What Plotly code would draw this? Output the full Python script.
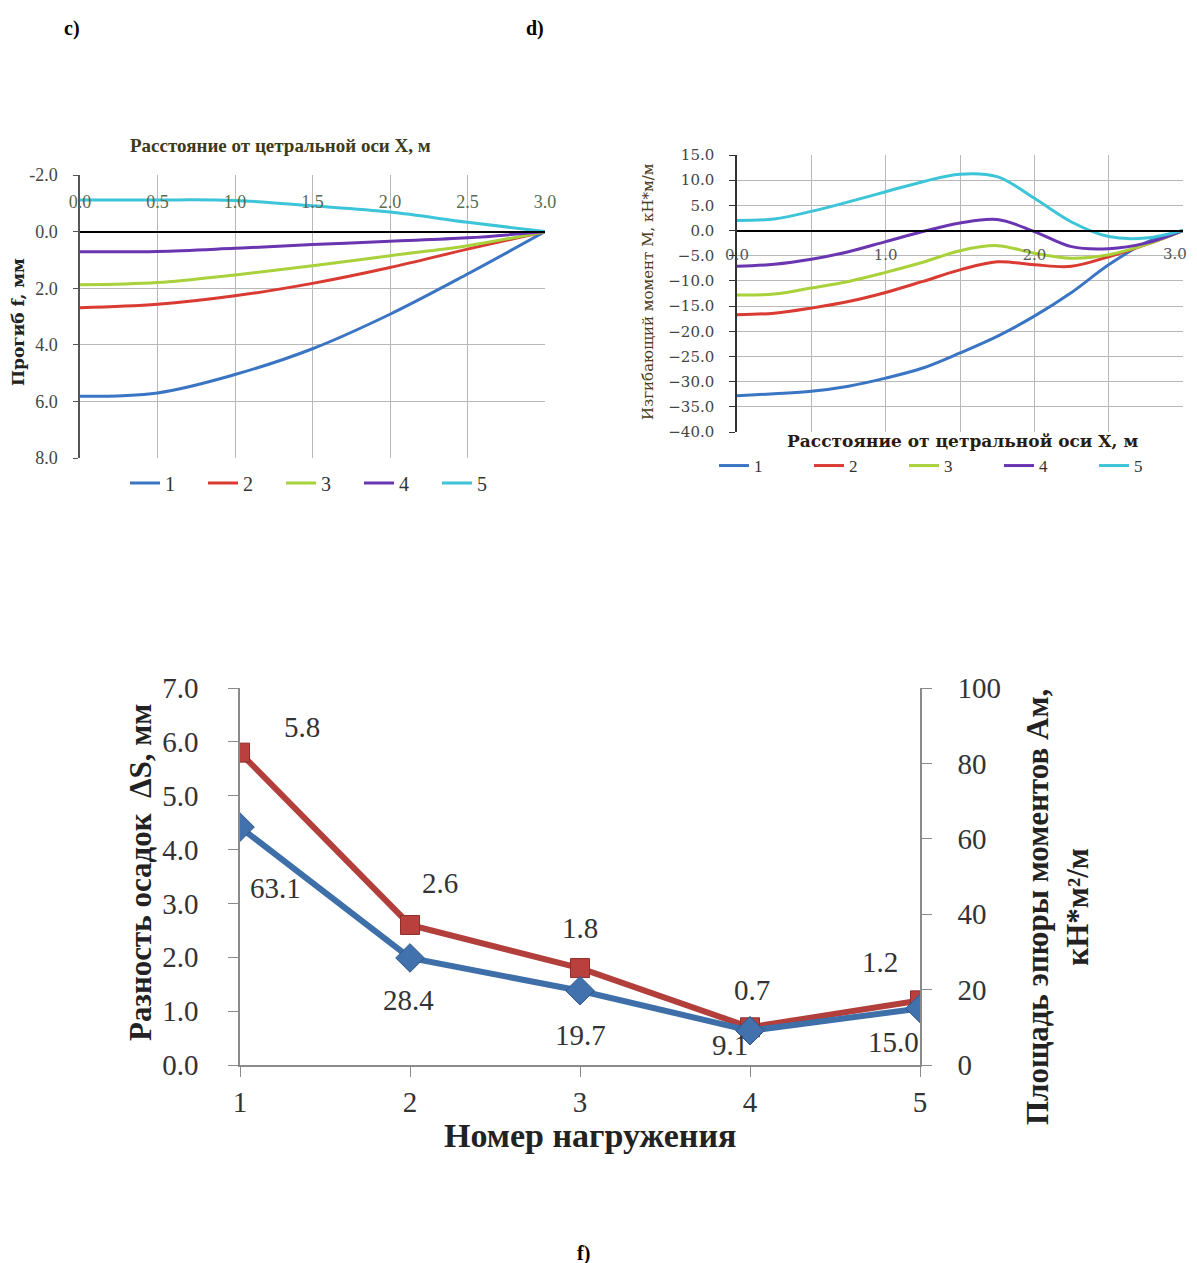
import plotly.graph_objects as go

W, H = 1197, 1263
SERIF = "Liberation Serif"
WIDE = "DejaVu Serif"
OFF = 8  # page body offset compensation

# ---------------- Panel c: deflection ----------------
x_c = [0.0, 0.5, 1.0, 1.5, 2.0, 2.5, 3.0]
c1 = [5.82, 5.70, 5.05, 4.14, 2.92, 1.50, 0.0]
c2 = [2.69, 2.57, 2.27, 1.83, 1.27, 0.62, 0.0]
c3 = [1.88, 1.80, 1.53, 1.21, 0.85, 0.50, 0.0]
c4 = [0.71, 0.70, 0.59, 0.46, 0.34, 0.22, 0.0]
c5 = [-1.12, -1.12, -1.10, -0.91, -0.69, -0.33, 0.0]
c_ticks = [-2.0, 0.0, 2.0, 4.0, 6.0, 8.0]
c_xticks = [0.0, 0.5, 1.0, 1.5, 2.0, 2.5, 3.0]

# ---------------- Panel d: bending moment ----------------
x_d = [0.0, 0.25, 0.5, 0.75, 1.0, 1.25, 1.5, 1.75, 2.0, 2.25, 2.5, 2.75, 3.0]
d1 = [-32.8, -32.4, -31.9, -30.9, -29.3, -27.3, -24.3, -21.0, -17.0, -12.3, -6.8, -2.4, 0.0]
d2 = [-16.7, -16.4, -15.4, -14.1, -12.3, -10.1, -7.8, -6.2, -6.8, -7.1, -5.2, -2.8, 0.0]
d3 = [-12.8, -12.6, -11.4, -10.1, -8.3, -6.3, -4.0, -3.0, -4.5, -5.5, -4.8, -2.8, 0.0]
d4 = [-7.1, -6.7, -5.7, -4.2, -2.2, -0.2, 1.5, 2.2, -0.2, -3.2, -3.6, -2.5, 0.0]
d5 = [2.0, 2.3, 3.8, 5.7, 7.7, 9.7, 11.2, 10.7, 6.4, 1.7, -1.2, -1.5, 0.0]
d_xticks = [0.0, 0.5, 1.0, 1.5, 2.0, 2.5, 3.0]
d_xticktext = ["0.0", "", "1.0", "", "2.0", "", ""]
d_last_label = "3.0"

# ---------------- Panel f: settlement difference / moment area ----------------
load_no = [1, 2, 3, 4, 5]
dS = [5.8, 2.6, 1.8, 0.7, 1.2]
Am = [63.1, 28.4, 19.7, 9.1, 15.0]

series_names = ["1", "2", "3", "4", "5"]
colors = ["#3a75c4", "#d93a32", "#a8d13a", "#6a35b0", "#3cc4d8"]

def fx(px):
    return (px - OFF) / W

def fy(py):
    return 1 - (py - OFF) / H

fig = go.Figure()

for name, ys, col in zip(series_names, [c1, c2, c3, c4, c5], colors):
    fig.add_trace(go.Scatter(x=x_c, y=ys, mode="lines", name=name, line=dict(color=col, width=3, shape="spline"),
                             xaxis="x", yaxis="y", legend="legend"))

for name, ys, col in zip(series_names, [d1, d2, d3, d4, d5], colors):
    fig.add_trace(go.Scatter(x=x_d, y=ys, mode="lines", name=name, line=dict(color=col, width=3, shape="spline"),
                             xaxis="x2", yaxis="y2", legend="legend2"))

fig.add_trace(go.Scatter(x=load_no, y=dS, mode="lines+markers", name="ΔS",
                         line=dict(color="#b23f3b", width=6),
                         marker=dict(symbol="square", size=19, color="#b9403c", line=dict(color="#8e2f2c", width=1)),
                         xaxis="x3", yaxis="y3", showlegend=False))
fig.add_trace(go.Scatter(x=load_no, y=Am, mode="lines+markers", name="Aм",
                         line=dict(color="#3e6fa8", width=6),
                         marker=dict(symbol="diamond", size=22, color="#4272ad", line=dict(color="#2f5686", width=1)),
                         xaxis="x3", yaxis="y4", showlegend=False))

# domains
c_dom_x = [fx(80), fx(545)]
c_dom_y = [fy(458), fy(175)]
d_dom_x = [fx(737), fx(1183)]
d_dom_y = [fy(432), fy(155)]
f_dom_x = [fx(240), fx(920)]
f_dom_y = [fy(1065), fy(688)]

c_zero_pos = c_dom_y[0] + (8 - 0) / 10 * (c_dom_y[1] - c_dom_y[0])
d_zero_pos = d_dom_y[0] + (0 - (-40)) / 55 * (d_dom_y[1] - d_dom_y[0])

grid = "#b8b8b8"
tickcol = "#333333"

fig.update_layout(
    width=W, height=H, margin=dict(l=0, r=0, t=0, b=0, autoexpand=False),
    paper_bgcolor="white", plot_bgcolor="white",
    font=dict(family=SERIF, color=tickcol),
    xaxis=dict(domain=c_dom_x, range=[0, 3.0], tickvals=c_xticks, ticktext=[f"{v:.1f}" for v in c_xticks],
               side="top", anchor="free", position=c_zero_pos, showgrid=True, gridcolor=grid, automargin=False,
               showline=True, linecolor="black", linewidth=2, ticks="", zeroline=False,
               tickfont=dict(family=SERIF, size=18, color="#5a6a50"), ticklabelstandoff=15),
    yaxis=dict(domain=c_dom_y, range=[8, -2], tickvals=c_ticks, ticktext=[f"{v:.1f}" for v in c_ticks],
               anchor="x", showgrid=True, gridcolor=grid, zeroline=False, showline=True, linecolor="#555555",
               linewidth=1.5, ticks="outside", ticklen=5, tickcolor="#555555", automargin=False,
               tickfont=dict(family=SERIF, size=18, color="#444444"), ticklabelstandoff=12),
    xaxis2=dict(domain=d_dom_x, range=[0, 3.0], tickvals=d_xticks, ticktext=d_xticktext,
                anchor="free", position=d_zero_pos, showgrid=True, gridcolor=grid, automargin=False,
                showline=True, linecolor="black", linewidth=2, ticks="", zeroline=False,
                tickfont=dict(family=WIDE, size=15, color="#555555"), ticklabelstandoff=10),
    yaxis2=dict(domain=d_dom_y, range=[-40, 15], dtick=5, tickformat=".1f", anchor="x2", automargin=False,
                showgrid=True, gridcolor=grid, zeroline=False, showline=True, linecolor="#333333",
                linewidth=1.5, ticks="outside", ticklen=6, tickcolor="#333333",
                tickfont=dict(family=WIDE, size=15, color="#444444"), ticklabelstandoff=12),
    xaxis3=dict(domain=f_dom_x, range=[1, 5], tickvals=load_no, anchor="y3", showgrid=False, zeroline=False,
                showline=True, linecolor="#8a8a8a", linewidth=1.5, ticks="outside", ticklen=10, tickcolor="#8a8a8a",
                automargin=False, tickfont=dict(family=SERIF, size=29, color="#333333"), ticklabelstandoff=0),
    yaxis3=dict(domain=f_dom_y, range=[0, 7], dtick=1, tickformat=".1f", anchor="x3", showgrid=False,
                zeroline=False, showline=True, linecolor="#8a8a8a", linewidth=1.5, ticks="outside", ticklen=10,
                automargin=False, tickcolor="#8a8a8a", tickfont=dict(family=SERIF, size=29, color="#333333"),
                ticklabelstandoff=24),
    yaxis4=dict(domain=f_dom_y, range=[0, 100], dtick=20, anchor="x3", overlaying="y3", side="right",
                showgrid=False, zeroline=False, showline=True, linecolor="#8a8a8a", linewidth=1.5,
                ticks="outside", ticklen=10, tickcolor="#8a8a8a", automargin=False,
                tickfont=dict(family=SERIF, size=29, color="#333333"), ticklabelstandoff=20),
    legend=dict(orientation="h", x=fx(117 + OFF), y=fy(483), xanchor="left", yanchor="middle",
                font=dict(family=SERIF, size=20, color="#333333"), entrywidth=33, bgcolor="rgba(0,0,0,0)"),
    legend2=dict(orientation="h", x=fx(706 + OFF), y=fy(466), xanchor="left", yanchor="middle",
                 font=dict(family=SERIF, size=17, color="#333333"), entrywidth=50, bgcolor="rgba(0,0,0,0)"),
)

ann = []
def A(text, x, y, size, bold=False, angle=0, color="#222222", family=SERIF):
    t = f"<b>{text}</b>" if bold else text
    ann.append(dict(text=t, x=fx(x), y=fy(y), xref="paper", yref="paper", showarrow=False,
                    xanchor="center", yanchor="middle",
                    textangle=angle, font=dict(family=family, size=size, color=color)))

A("c)", 72, 28, 20, bold=True, color="black")
A("d)", 535, 28, 20, bold=True, color="black")
A("f)", 583, 1253, 20, bold=True, color="black")
A("Расстояние от цетральной оси X, м", 280, 145, 19, bold=True, color="#3b3b18")
A("Прогиб f, мм", 18, 322, 17, bold=True, angle=-90, color="#222222", family=WIDE)
A("Изгибающий момент M, кН*м/м", 648, 292, 15, angle=-90, color="#4a3a20", family=WIDE)
A("Расстояние от цетральной оси X, м", 962, 441, 17, bold=True, color="#2a1a10", family=WIDE)
A("Разность осадок  ΔS, мм", 140, 873, 31, bold=True, angle=-90, color="#222222")
A("Площадь эпюры моментов Aм,<br>кН*м²/м", 1057, 907, 31, bold=True, angle=-90, color="#222222")
A("Номер нагружения", 590, 1135, 34, bold=True, color="#222222")

# last x tick label of panel d, pulled slightly inside the page
ann.append(dict(text=d_last_label, x=d_xticks[-1], y=fy(254), xref="x2", yref="paper", showarrow=False,
                xanchor="right", yanchor="middle", xshift=6,
                font=dict(family=WIDE, size=15, color="#555555")))

# data labels for panel f
red_shift = [(62, 26), (30, 42), (0, 40), (2, 37), (-40, 38)]
blue_shift = [(35, -61), (-2, -42), (0, -44), (-20, -14), (-27, -34)]
for xv, yv, (dx, dy) in zip(load_no, dS, red_shift):
    ann.append(dict(text=f"{yv:.1f}", x=xv, y=yv, xref="x3", yref="y3", showarrow=False,
                    xshift=dx, yshift=dy, font=dict(family=SERIF, size=29, color="#333333")))
for xv, yv, (dx, dy) in zip(load_no, Am, blue_shift):
    ann.append(dict(text=f"{yv:.1f}", x=xv, y=yv, xref="x3", yref="y4", showarrow=False,
                    xshift=dx, yshift=dy, font=dict(family=SERIF, size=29, color="#333333")))

fig.update_layout(annotations=ann)
fig.write_html("out.html")
